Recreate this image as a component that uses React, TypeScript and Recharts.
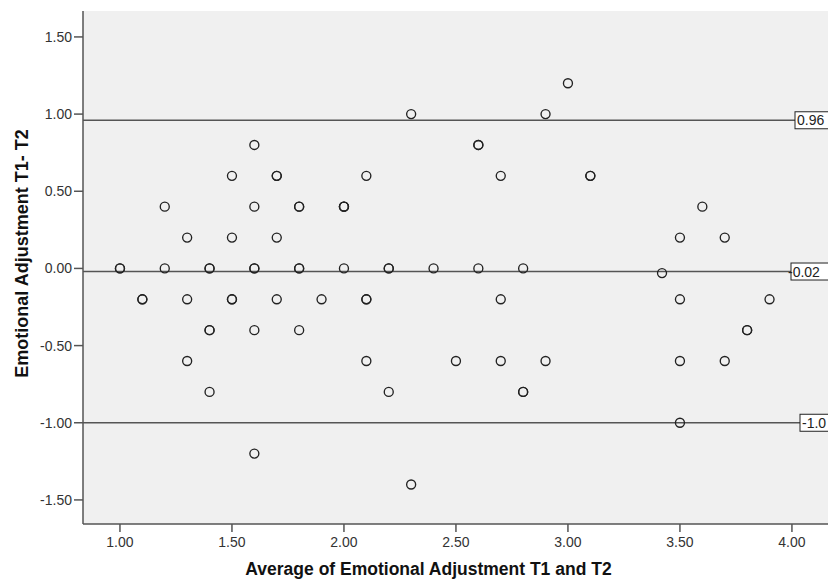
import React from 'react';
import { ScatterChart, Scatter, XAxis, YAxis, ReferenceLine, CartesianGrid } from 'recharts';

// mean of T1 and T2 (x) and difference T1 - T2 (y), one entry per case
const avgScores = [
  3.0,
  2.3, 2.9,
  1.6, 2.6, 2.6,
  1.5, 1.7, 1.7, 2.1, 2.7, 3.1, 3.1,
  1.2, 1.6, 1.8, 1.8, 2.0, 2.0, 2.0, 3.6,
  1.3, 1.5, 1.7, 3.5, 3.7,
  1.0, 1.0, 1.2, 1.4, 1.4, 1.6, 1.6, 1.8, 1.8, 2.0, 2.2, 2.2, 2.4, 2.6, 2.8,
  3.42,
  1.1, 1.1, 1.3, 1.5, 1.5, 1.7, 1.9, 2.1, 2.1, 2.7, 3.5, 3.9,
  1.4, 1.4, 1.6, 1.8, 3.8, 3.8,
  1.3, 2.1, 2.5, 2.7, 2.9, 3.5, 3.7,
  1.4, 2.2, 2.8, 2.8,
  3.5,
  1.6,
  2.3,
];
const diffScores = [
  1.2,
  1.0, 1.0,
  0.8, 0.8, 0.8,
  0.6, 0.6, 0.6, 0.6, 0.6, 0.6, 0.6,
  0.4, 0.4, 0.4, 0.4, 0.4, 0.4, 0.4, 0.4,
  0.2, 0.2, 0.2, 0.2, 0.2,
  0, 0, 0, 0, 0, 0, 0, 0, 0, 0, 0, 0, 0, 0, 0,
  -0.03,
  -0.2, -0.2, -0.2, -0.2, -0.2, -0.2, -0.2, -0.2, -0.2, -0.2, -0.2, -0.2,
  -0.4, -0.4, -0.4, -0.4, -0.4, -0.4,
  -0.6, -0.6, -0.6, -0.6, -0.6, -0.6, -0.6,
  -0.8, -0.8, -0.8, -0.8,
  -1.0,
  -1.2,
  -1.4,
];

const xTicks = [1, 1.5, 2, 2.5, 3, 3.5, 4];
const yTicks = [-1.5, -1, -0.5, 0, 0.5, 1, 1.5];

// upper limit, mean difference, lower limit
const limitValues = [0.96, -0.02, -1.0];
const limitLabels = ['0.96', '-0.02', '-1.0'];

const points = avgScores.map((x, i) => ({ x, y: diffScores[i] }));

const font = '"Liberation Sans", Arial, sans-serif';
// box and text shift from the right edge of the plot for each limit label
const boxShift = [-33, -37, -28];
const textShift = [2, -3, 2];

const Dot = (props: any) => (
  <circle cx={props.cx} cy={props.cy} r={4.5} fill="none" stroke="#222" strokeWidth={1.35} />
);

const LimitLabel = (props: any) => {
  const { viewBox, text, idx } = props;
  const right = viewBox.x + viewBox.width;
  const y = viewBox.y;
  return (
    <g>
      <rect x={right + boxShift[idx]} y={y - 8.5} width={50} height={17} fill="#fff" stroke="#222" strokeWidth={1} />
      <text
        x={right + boxShift[idx] + textShift[idx]}
        y={y}
        dominantBaseline="central"
        fontSize={14}
        fontFamily={font}
        fill="#222"
      >
        {text}
      </text>
    </g>
  );
};

const XTitle = (props: any) => {
  const { viewBox } = props;
  return (
    <text
      x={viewBox.x + viewBox.width / 2 - 27}
      y={viewBox.y + 45}
      textAnchor="middle"
      dominantBaseline="central"
      fontSize={17.5}
      fontWeight="bold"
      fontFamily={font}
      fill="#111"
    >
      Average of Emotional Adjustment T1 and T2
    </text>
  );
};

const YTitle = (props: any) => {
  const { viewBox } = props;
  const x = 22;
  const y = viewBox.y + viewBox.height / 2 - 14;
  return (
    <text
      x={x}
      y={y}
      transform={`rotate(-90, ${x}, ${y})`}
      textAnchor="middle"
      dominantBaseline="central"
      fontSize={18}
      fontWeight="bold"
      fontFamily={font}
      fill="#111"
    >
      Emotional Adjustment T1- T2
    </text>
  );
};

const tickStyle = { fontSize: 14, fontFamily: font, fill: '#333' };
const xDomain = [0.835, 4.161];
const yDomain = [-1.656, 1.668];

export default function App() {
  return (
    <div style={{ position: 'absolute', left: 0, top: 0, width: 828, height: 582, background: '#fff' }}>
      <ScatterChart width={828} height={582} margin={{ top: 11, right: 0, bottom: 0, left: 0 }}>
        <CartesianGrid fill="#f0f0f0" horizontal={false} vertical={false} />
        <XAxis
          type="number"
          dataKey="x"
          domain={xDomain}
          allowDataOverflow
          ticks={xTicks}
          tickFormatter={(v: number) => v.toFixed(2)}
          height={58}
          tickSize={8}
          tickMargin={5}
          tick={tickStyle}
          stroke="#555"
          strokeWidth={1.5}
          label={<XTitle />}
        />
        <XAxis
          xAxisId="top"
          orientation="top"
          type="number"
          domain={xDomain}
          allowDataOverflow
          height={0}
          tick={false}
          tickLine={false}
          stroke="#555"
          strokeWidth={1.5}
        />
        <YAxis
          type="number"
          dataKey="y"
          domain={yDomain}
          allowDataOverflow
          ticks={yTicks}
          tickFormatter={(v: number) => v.toFixed(2)}
          width={83}
          tickSize={9}
          tickMargin={2}
          tick={tickStyle}
          stroke="#555"
          strokeWidth={1.5}
          label={<YTitle />}
        />
        {limitValues.map((v, i) => (
          <ReferenceLine
            key={i}
            y={v}
            stroke="#555"
            strokeWidth={1.5}
            label={<LimitLabel text={limitLabels[i]} idx={i} />}
          />
        ))}
        <Scatter data={points} shape={<Dot />} isAnimationActive={false} />
      </ScatterChart>
    </div>
  );
}
